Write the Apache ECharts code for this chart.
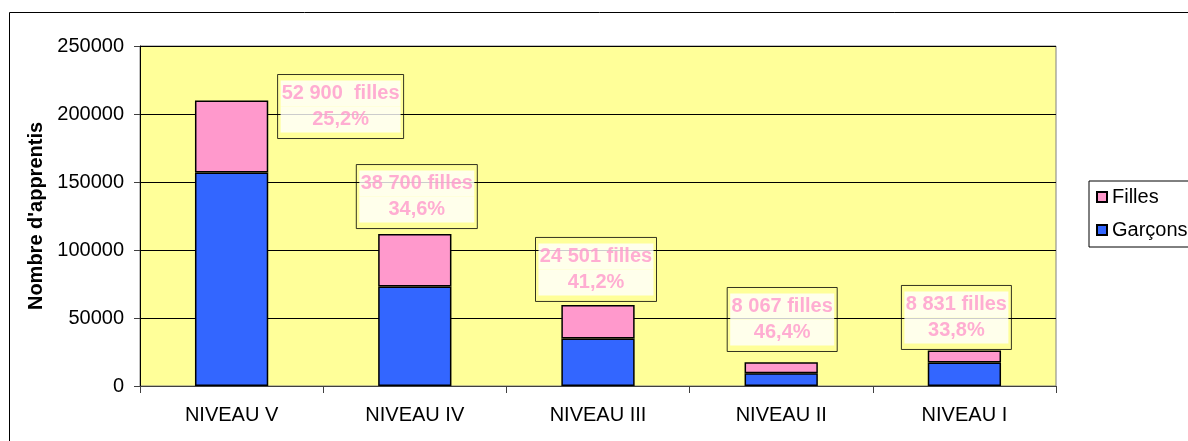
<!DOCTYPE html>
<html lang="fr">
<head>
<meta charset="UTF-8">
<title>Apprentis par niveau</title>
<script src="https://cdn.jsdelivr.net/npm/echarts@6/dist/echarts.min.js"></script>
<style>
  html, body { margin: 0; padding: 0; background: #fff; }
  #chart { width: 1188px; height: 441px; }
</style>
</head>
<body>
<div id="chart"></div>
<script type="text/javascript">
// categories and values
var niveaux = ['NIVEAU V', 'NIVEAU IV', 'NIVEAU III', 'NIVEAU II', 'NIVEAU I'];
var garcons = [157020, 73150, 34967, 9319, 17296];
var filles = [52900, 38700, 24501, 8067, 8831];
var yTicks = [0, 50000, 100000, 150000, 200000, 250000];

// annotation boxes: text lines and where they sit (value axis)
var annotLine1 = ['52 900  filles', '38 700 filles', '24 501 filles', '8 067 filles', '8 831 filles'];
var annotLine2 = ['25,2%', '34,6%', '41,2%', '46,4%', '33,8%'];
var annotY = [205500, 139300, 85700, 48900, 50400];
var annotDx = [109, 2, -2, 1, -8];

var FONT = '"Liberation Sans", Arial, sans-serif';
var PINK = '#FF99CC';
var BLUE = '#3366FF';

// measure text so the white area of each box fits its first line
var ctx = document.createElement('canvas').getContext('2d');
ctx.font = 'bold 20px ' + FONT;

var annotData = [];
for (var i = 0; i < niveaux.length; i++) {
    var w = Math.ceil(ctx.measureText(annotLine1[i]).width) + 2;
    annotData.push({
        value: [i, annotY[i]],
        label: {
            offset: [annotDx[i], 0],
            formatter: '{t|' + annotLine1[i] + '}\n{t|' + annotLine2[i] + '}',
            rich: {
                t: {
                    width: w,
                    height: 26,
                    lineHeight: 26,
                    align: 'center',
                    backgroundColor: '#fff',
                    color: PINK,
                    fontFamily: FONT,
                    fontSize: 20,
                    fontWeight: 'bold'
                }
            }
        }
    });
}

var dom = document.getElementById('chart');
var myChart = echarts.init(dom);

var option = {
    animation: false,
    graphic: [{
        type: 'rect',
        shape: { x: 9.5, y: 12.5, width: 1400, height: 600 },
        style: { fill: 'none', stroke: '#000', lineWidth: 1 },
        silent: true,
        z: -10
    }],
    legend: {
        data: ['Filles', 'Garçons'],
        orient: 'vertical',
        left: 1089,
        top: 181,
        padding: [5, 12, 6, 7],
        itemGap: 11,
        itemWidth: 10,
        itemHeight: 10,
        icon: 'rect',
        borderColor: '#000',
        borderWidth: 1,
        backgroundColor: '#fff',
        textStyle: {
            fontFamily: FONT,
            fontSize: 20,
            color: '#000',
            lineHeight: 22
        }
    },
    grid: {
        left: 140,
        right: 132,
        top: 46,
        bottom: 55,
        show: true,
        backgroundColor: '#FFFF99',
        borderColor: '#808080',
        borderWidth: 1
    },
    xAxis: {
        type: 'category',
        data: niveaux,
        axisLine: { lineStyle: { color: '#404040', width: 1 } },
        axisTick: { show: true, length: 7, lineStyle: { color: '#404040' } },
        axisLabel: {
            margin: 19,
            fontFamily: FONT,
            fontSize: 20,
            color: '#000'
        }
    },
    yAxis: {
        type: 'value',
        min: yTicks[0],
        max: yTicks[yTicks.length - 1],
        interval: 50000,
        name: "Nombre d'apprentis",
        nameLocation: 'middle',
        nameRotate: 90,
        nameGap: 84,
        nameTextStyle: {
            fontFamily: FONT,
            fontSize: 20,
            fontWeight: 'bold',
            color: '#000'
        },
        axisLine: { show: true, lineStyle: { color: '#000', width: 1 } },
        axisTick: { show: true, length: 6, lineStyle: { color: '#404040' } },
        axisLabel: {
            margin: 16,
            fontFamily: FONT,
            fontSize: 20,
            color: '#000',
            formatter: function (v) { return String(v); }
        },
        splitLine: { show: true, lineStyle: { color: '#000', width: 1 } }
    },
    series: [
        {
            name: 'Garçons',
            type: 'bar',
            stack: 'total',
            barWidth: '40%',
            data: garcons,
            itemStyle: { color: BLUE, borderColor: '#000', borderWidth: 1.5 }
        },
        {
            name: 'Filles',
            type: 'bar',
            stack: 'total',
            barWidth: '40%',
            data: filles,
            itemStyle: { color: PINK, borderColor: '#000', borderWidth: 1.5 }
        },
        {
            name: 'annotations',
            type: 'scatter',
            symbolSize: 0,
            silent: true,
            z: 10,
            data: annotData,
            label: {
                show: true,
                position: 'inside',
                borderColor: '#000',
                borderWidth: 1,
                padding: [6, 3, 6, 3]
            }
        }
    ]
};

if (option && typeof option === "object") {
    myChart.setOption(option, true);
}
</script>
</body>
</html>
